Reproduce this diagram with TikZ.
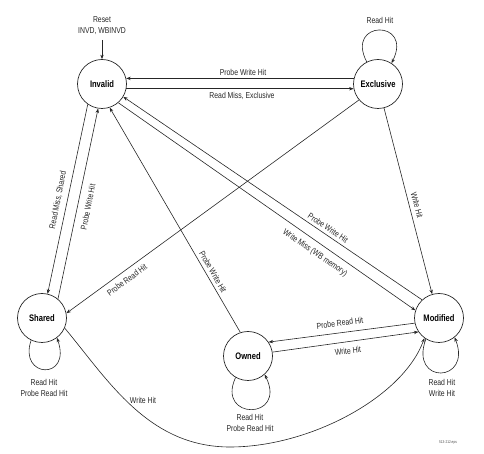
\documentclass[tikz,border=0pt]{standalone}
\usepackage{fontspec}
\setmainfont[FakeStretch=0.8]{Liberation Sans}
\usetikzlibrary{arrows.meta}
\tikzset{
  state/.style={circle, draw=black!85, line width=0.7bp, minimum size=49bp, inner sep=0pt,
                font=\fontsize{9.5}{11}\selectfont\bfseries},
  conn/.style={draw=black!85, line width=0.6bp, -{Stealth[length=4.5bp,width=3.4bp]}},
  lbl/.style={font=\fontsize{8.6}{11}\selectfont, text=black!85, inner sep=1pt, align=center},
}
\begin{document}
\begin{tikzpicture}[x=1bp,y=1bp]
\useasboundingbox (0,0) rectangle (484,454);
% states
\node[state] (I) at (102,370) {Invalid};
\node[state] (E) at (378,370) {Exclusive};
\node[state] (S) at (42,136) {Shared};
\node[state] (O) at (248,98) {Owned};
\node[state] (M) at (439,136) {Modified};

% reset
\node[lbl] (resetlbl) at (102,428.5) {Reset\\INVD, WBINVD};
\coordinate (rs) at (102,414);
\draw[conn] (rs) -- (I.north);

% Invalid <-> Exclusive
\draw[conn] (E.167) -- (I.13);
\node[lbl] (l1) at (243,382) {Probe Write Hit};
\draw[conn] (I.-11) -- (E.191);
\node[lbl] (l2) at (242,358) {Read Miss, Exclusive};

% Invalid <-> Shared
\draw[conn] (I.-125) -- (S.77);
\node[lbl, rotate=78.7] (l3) at (58,254) {Read Miss, Shared};
\draw[conn] (S.50) -- (I.-99);
\node[lbl, rotate=78.7] (l4) at (88,247) {Probe Write Hit};

% Exclusive -> Shared
\draw[conn] (E.-140) -- (S.11);
\node[lbl, rotate=36] (l5) at (127,174) {Probe Read Hit};

% Owned -> Invalid
\draw[conn] (O.108) -- (I.-72);
\node[lbl, rotate=-60] (l6) at (213,182) {Probe Write Hit};

% Modified <-> Invalid
\draw[conn] (M.133) -- (I.-31);
\node[lbl, rotate=-34.2] (l7) at (328,226) {Probe Write Hit};
\draw[conn] (I.-49) -- (M.162);
\node[lbl, rotate=-34.5] (l8) at (315,201) {Write Miss (WB memory)};

% Exclusive -> Modified
\draw[conn] (E.-76) -- (M.106);
\node[lbl, rotate=-75.3] (l9) at (417,249) {Write Hit};

% Modified <-> Owned
\draw[conn] (M.192) -- (O.34);
\node[lbl, rotate=7.4] (l10) at (340,131) {Probe Read Hit};
\draw[conn] (O.9) -- (M.214);
\node[lbl, rotate=7.3] (l11) at (348,103) {Write Hit};

% Shared -> Modified curve
\coordinate (bot) at (230,7);
\draw[conn] (S.-24) .. controls (108,74) and (148,7) .. (bot)
            .. controls (310,7) and (403,57) .. (M.-126);
\node[lbl] (l12) at (143,54) {Write Hit};

% self loops
\draw[conn] (E.117) .. controls +(-22,42) and +(22,44) .. (E.57);
\node[lbl] (l13) at (380,434) {Read Hit};
\draw[conn] (S.-116) .. controls +(-13,-38) and +(15,-43) .. (S.-53);
\node[lbl] (l14) at (44,66) {Read Hit\\Probe Read Hit};
\draw[conn] (O.-120) .. controls +(-20,-43) and +(23,-46) .. (O.-48);
\node[lbl] (l15) at (250,31) {Read Hit\\Probe Read Hit};
\draw[conn] (M.-122) .. controls +(-17,-46) and +(18,-46) .. (M.-51);
\node[lbl] (l16) at (442,66.5) {Read Hit\\Write Hit};

% footnote
\node[font=\fontsize{4}{5}\selectfont, text=black!70] (fn) at (448,11) {513-212.eps};
\end{tikzpicture}
\end{document}
